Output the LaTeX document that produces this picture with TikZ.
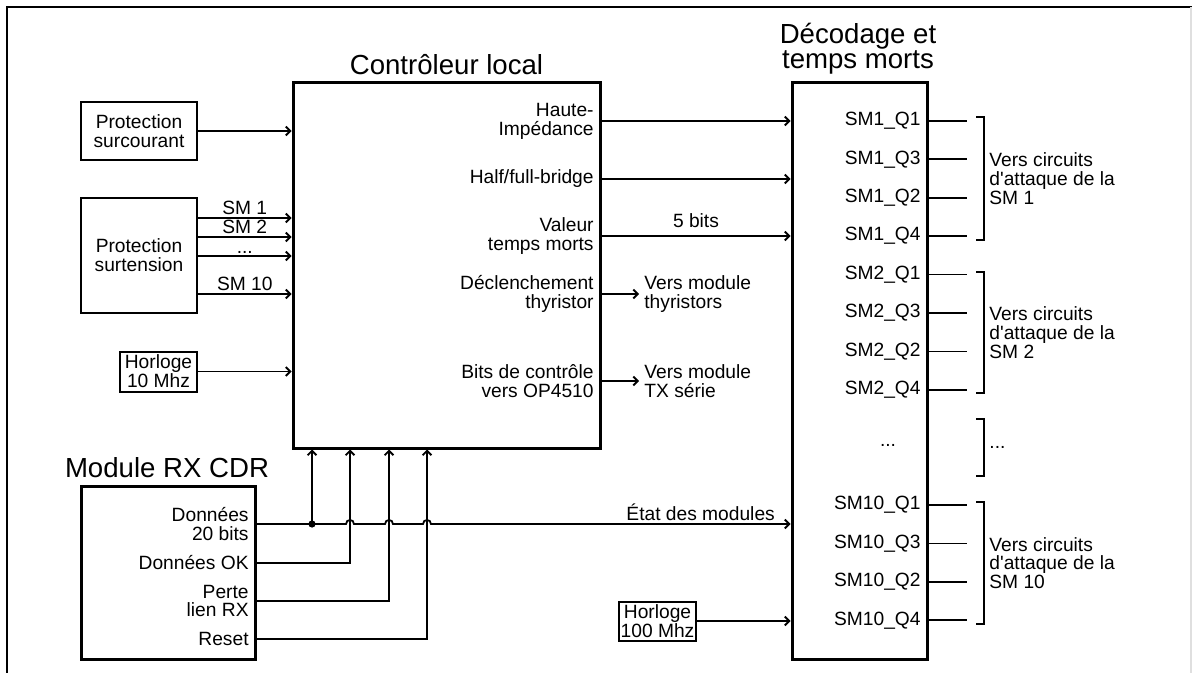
\documentclass[tikz,border=0pt]{standalone}
\usepackage{fontspec}
\setmainfont{Liberation Sans}[Ligatures=TeXOff]
\usetikzlibrary{arrows.meta, positioning, calc}

\begin{document}
\begin{tikzpicture}[x=0.5pt,y=-0.5pt,
  every node/.style={font=\fontsize{9.6}{9.4}\selectfont, inner sep=1pt},
  bloc/.style={draw, line width=1.5pt},
  petit/.style={draw, line width=1pt, align=center, inner sep=0pt},
  lien/.style={line width=0.9pt},
  fl/.style={lien, -{Straight Barb[length=2.2pt,width=4.4pt]}},
  titre/.style={font=\fontsize{13.8}{12.6}\selectfont, align=center},
  etiq/.style={align=right, anchor=east},
  sortie/.style={align=left, anchor=west}]
  \useasboundingbox (0,0) rectangle (1192,673);
  % cadre
  \draw[line width=0.6pt] (7,673) -- (7,7) -- (1192,7);
  \draw[gray!25, line width=0.6pt] (1191,7) -- (1191,673);

  % blocs
  \node[bloc, minimum width=153.5pt, minimum height=182.5pt] (ctrl) at (446.5,265.5) {};
  \node[bloc, minimum width=67.5pt, minimum height=288pt] (dec) at (859.5,371) {};
  \node[bloc, minimum width=87pt, minimum height=86.5pt] (rx) at (168,572.5) {};
  \node[titre] (tctrl) at (446.5,65) {Contrôleur local};
  \node[titre] (tdec) at (858,49) {Décodage et\\temps morts};
  \node[titre] (trx) at (167,468) {Module RX CDR};

  \node[petit, minimum width=58pt, minimum height=29pt] (ocp) at (139,131) {Protection\\surcourant};
  \node[petit, minimum width=58pt, minimum height=57.5pt] (ovp) at (139,255.5) {Protection\\surtension};
  \node[petit, minimum width=38.5pt, minimum height=20pt] (clk10) at (158.5,371.5) {Horloge\\10 Mhz};
  \node[petit, minimum width=38.5pt, minimum height=19.5pt] (clk100) at (657.5,621) {Horloge\\100 Mhz};

  % entrees du controleur
  \draw[fl] (ocp.east) -- (ocp.east -| ctrl.west);
  \foreach \yy/\txt in {218/{SM 1}, 237/{SM 2}, 256/{...}, 294/{SM 10}}
    \draw[fl] (ovp.east |- 0,\yy) -- (ctrl.west |- 0,\yy) node[midway, above]{\txt};
  \draw[fl] (clk10.east) -- (clk10.east -| ctrl.west);

  % sorties du controleur
  \node[etiq] (hz) at (596,121) {Haute-\\Impédance};
  \node[etiq] (hb) at (596,179) {Half/full-bridge};
  \node[etiq] (tm) at (596,236) {Valeur\\temps morts};
  \node[etiq] (thy) at (596,294) {Déclenchement\\thyristor};
  \node[etiq] (op) at (596,381) {Bits de contrôle\\vers OP4510};
  \node[sortie] (vthy) at (642,294) {Vers module\\thyristors};
  \node[sortie] (vtx) at (642,381) {Vers module\\TX série};
  \draw[fl] (ctrl.east |- hz) -- (dec.west |- hz);
  \draw[fl] (ctrl.east |- hb) -- (dec.west |- hb);
  \draw[fl] (ctrl.east |- tm) -- (dec.west |- tm) node[midway, above=2.5pt]{5 bits};
  \draw[fl] (ctrl.east |- thy) -- ([xshift=-1.5pt]vthy.west);
  \draw[fl] (ctrl.east |- op) -- ([xshift=-1.5pt]vtx.west);

  % module RX
  \node[etiq] (rxd) at (251,524) {Données\\20 bits};
  \node[etiq] (rxok) at (251,563) {Données OK};
  \node[etiq] (rxl) at (251,601) {Perte\\lien RX};
  \node[etiq] (rxr) at (251,639) {Reset};
  \coordinate (j1) at (312,524);
  \draw[fl] (j1) -- (j1 |- ctrl.south);
  \fill (j1) circle[radius=1.8pt];
  \draw[fl] (rx.east |- rxok) -| (ctrl.south -| 350,0);
  \draw[fl] (rx.east |- rxl) -| (ctrl.south -| 389,0);
  \draw[fl] (rx.east |- rxr) -| (ctrl.south -| 427,0);
  \draw[fl] (rx.east |- rxd) -- (346,524) .. controls (346,518.7) and (354,518.7) .. (354,524)
    -- (385,524) .. controls (385,518.7) and (393,518.7) .. (393,524)
    -- (423,524) .. controls (423,518.7) and (431,518.7) .. (431,524)
    -- (dec.west |- rxd) node[pos=0.75, above]{État des modules};
  \draw[fl] (clk100.east) -- (clk100.east -| dec.west);

  % sorties du decodage
  \foreach \m/\k in {1/0, 2/4, 10/10}
    \foreach \q/\j in {1/0, 3/1, 2/2, 4/3}{
      \node[etiq] (q\m-\q) at (923,{121+38.4*(\k+\j)}) {SM\m\_Q\q};
      \draw[lien] (dec.east |- q\m-\q) -- ++(38,0);
    }
  \node (qdots) at (888,445) {...};
  \foreach \ya/\yb/\txt in {117/240/{Vers circuits\\d'attaque de la\\SM 1},
      272/393/{Vers circuits\\d'attaque de la\\SM 2}, 419/476/{...},
      502/624/{Vers circuits\\d'attaque de la\\SM 10}}{
    \draw[lien] (976,\ya) -| (984,\yb) -- (976,\yb);
    \node[sortie] at (987,{(\ya+\yb)/2}) {\txt};
  }
\end{tikzpicture}
\end{document}
